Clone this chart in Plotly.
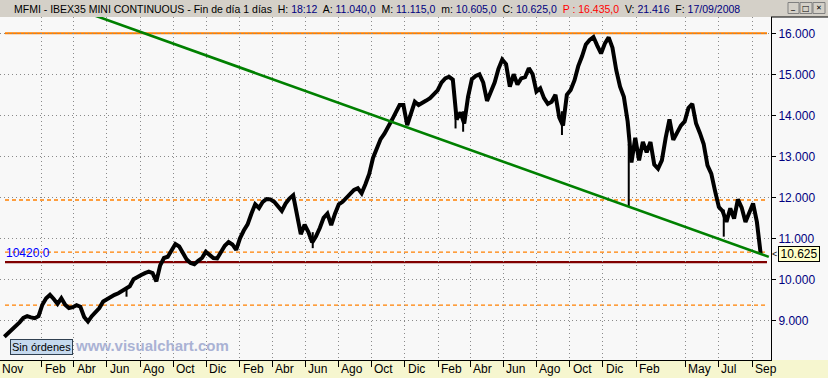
import plotly.graph_objects as go
import pandas as pd

# ---------------- data ----------------
start_week = "2004-11-24"
close = [
    8600, 8680, 8780, 8850, 8950, 9060, 9100, 9070, 9050, 9100,
    9380, 9540, 9620, 9520, 9400, 9540, 9380, 9300, 9320, 9370,
    9330, 9080, 8970, 9100, 9200, 9300, 9460, 9520, 9580, 9620,
    9660, 9710, 9780, 9830, 10000, 10060, 10105, 10150, 10185, 10150,
    9950, 10340, 10520, 10550, 10720, 10860, 10800, 10650, 10480, 10400,
    10370, 10450, 10520, 10670, 10590, 10520, 10510, 10680, 10820, 10910,
    10850, 10720, 11000, 11190, 11340, 11600, 11830, 11740, 11890, 11960,
    11950, 11890, 11780, 11670, 11850, 11970, 12050, 11600, 11100, 11330,
    11150, 10900, 11050, 11250, 11500, 11600, 11320, 11600, 11830, 11890,
    11980, 12080, 12180, 12220, 12100, 12320, 12570, 12960, 13180, 13420,
    13550, 13700, 13890, 14070, 14250, 14250, 13760, 14050, 14330, 14250,
    14320, 14360, 14420, 14520, 14610, 14800, 14900, 14940, 14870, 13900,
    14070, 13800, 14450, 14880, 14960, 15000, 14800, 14350, 14600, 14800,
    15130, 15360, 15250, 14700, 15000, 14750, 14900, 14930, 15150, 15000,
    14580, 14660, 14420, 14280, 14330, 14500, 13950, 13750, 14500, 14620,
    14850, 15200, 15440, 15730, 15840, 15910, 15700, 15510, 15750, 15900,
    15650, 15100, 14700, 14450, 13850, 12850, 13450, 12900, 13350, 13100,
    13350, 12800, 12700, 12900, 13450, 13900, 13400, 13580, 13750, 13850,
    14180, 14280, 13800, 13570, 13300, 12780, 12580, 12150, 11760, 11660,
    11400, 11730, 11480, 11950, 11750, 11400, 11600, 11850, 11400, 10625,
]
spike_dates = ["2005-07-07", "2006-06-15", "2007-03-05", "2007-03-19", "2007-09-17", "2008-01-18", "2008-07-11"]
spike_low = [9576, 10760, 13680, 13600, 13520, 11780, 11040]
spike_high = [9800, 11150, 14200, 14100, 14100, 13300, 11700]

trend_dates = ["2005-04-14", "2008-10-02"]
trend_values = [16555, 10548]

support_level = 10420
support_label = "10420.0"
resistance_level = 16000
fib_levels = [11935, 10665, 9370]

y_ticks = [9000, 10000, 11000, 12000, 13000, 14000, 15000, 16000]
y_tick_text = ["9.000", "10.000", "11.000", "12.000", "13.000", "14.000", "15.000", "16.000"]

x_tick_dates = ["2005-02-01", "2005-04-01", "2005-06-01", "2005-08-01", "2005-10-01", "2005-12-01",
                "2006-02-01", "2006-04-01", "2006-06-01", "2006-08-01", "2006-10-01", "2006-12-01",
                "2007-02-01", "2007-04-01", "2007-06-01", "2007-08-01", "2007-10-01", "2007-12-01",
                "2008-02-01", "2008-05-01", "2008-07-01", "2008-09-01"]
x_tick_text = ["Feb", "Abr", "Jun", "Ago", "Oct", "Dic",
               "Feb", "Abr", "Jun", "Ago", "Oct", "Dic",
               "Feb", "Abr", "Jun", "Ago", "Oct", "Dic",
               "Feb", "May", "Jul", "Sep"]
first_label = "Nov"

header_parts = [
    ("MFMI - IBEX35 MINI CONTINUOUS - Fin de día 1 días", None),
    ("H:", "18:12"), ("A:", "11.040,0"), ("M:", "11.115,0"), ("m:", "10.605,0"),
    ("C:", "10.625,0"), ("P :", "16.435,0"), ("V:", "21.416"), ("F:", "17/09/2008"),
]

# ---------------- figure ----------------
FONT = "Liberation Sans"
W, H = 828, 378
ML, MR, MT, MB = 0, 57, 17, 18
PW = W - ML - MR
PH = H - MT - MB


def px(x):
    return (x - ML) / PW


def py(y):
    return (H - MB - y) / PH


dates = pd.date_range(start_week, periods=len(close), freq="7D")

fig = go.Figure()
fig.add_trace(go.Scatter(x=dates, y=close, mode="lines",
                         line=dict(color="black", width=4), hoverinfo="skip"))

wx, wy = [], []
for d, lo, hi in zip(spike_dates, spike_low, spike_high):
    wx += [d, d, None]
    wy += [lo, hi, None]
fig.add_trace(go.Scatter(x=wx, y=wy, mode="lines", line=dict(color="black", width=2), hoverinfo="skip"))

fig.add_trace(go.Scatter(x=trend_dates, y=trend_values, mode="lines",
                         line=dict(color="#008000", width=2.6), hoverinfo="skip"))

shapes = []
# header and bottom band
shapes.append(dict(type="rect", xref="paper", yref="paper", x0=px(0), x1=px(W), y0=1, y1=py(0),
                   fillcolor="#d4d0c8", line=dict(width=0), layer="below"))
shapes.append(dict(type="rect", xref="paper", yref="paper", x0=px(0), x1=px(W), y0=py(H), y1=0,
                   fillcolor="#f6f6cf", line=dict(width=0), layer="below"))
shapes.append(dict(type="line", xref="paper", yref="paper", x0=1, x1=px(W), y0=1, y1=1,
                   line=dict(color="black", width=1)))
# level lines
shapes.append(dict(type="line", xref="paper", yref="y", x0=px(5), x1=px(767), y0=resistance_level,
                   y1=resistance_level, line=dict(color="#ff8000", width=2), layer="between"))
for lv in fib_levels:
    shapes.append(dict(type="line", xref="paper", yref="y", x0=px(5), x1=px(767), y0=lv, y1=lv,
                       line=dict(color="#ff8000", width=1.3, dash="4px,3px"), layer="between"))
shapes.append(dict(type="line", xref="paper", yref="y", x0=px(5), x1=px(767), y0=support_level,
                   y1=support_level, line=dict(color="#800000", width=2.2), layer="between"))
# window buttons
for x0, x1 in [(788, 799), (800, 812), (813, 825)]:
    shapes.append(dict(type="rect", xref="paper", yref="paper", x0=px(x0), x1=px(x1), y0=py(13.5), y1=py(2.5),
                       fillcolor="#d4d0c8", line=dict(color="#808080", width=1)))

annotations = []
txt = ""
for label, val in header_parts:
    if val is None:
        txt += label
    elif label.startswith("P"):
        txt += "  <span style='color:#ff0000'>" + label + " " + val + "</span>"
    else:
        txt += "  " + label + " <span style='color:#000080'>" + val + "</span>"
annotations.append(dict(text=txt, xref="paper", yref="paper", x=px(12), y=py(8.5), xanchor="left",
                        yanchor="middle", showarrow=False, font=dict(family=FONT, size=10.5, color="black")))
for (xc, yc, sym, fs) in [(793.5, 6, "_", 8), (806, 8, "□", 8), (819, 8, "✕", 7)]:
    annotations.append(dict(text=sym, xref="paper", yref="paper", x=px(xc), y=py(yc), showarrow=False,
                            xanchor="center", yanchor="middle", font=dict(family="DejaVu Sans", size=fs, color="black")))

annotations.append(dict(text=first_label, xref="paper", yref="paper", x=0, y=0, xanchor="left",
                        yanchor="top", yshift=0, showarrow=False, font=dict(family=FONT, size=12, color="black")))
for d, t in zip(x_tick_dates, x_tick_text):
    annotations.append(dict(text=t, xref="x", yref="paper", x=d, y=0, xanchor="left", yanchor="top",
                            xshift=1, yshift=0, showarrow=False, font=dict(family=FONT, size=12, color="black")))

annotations.append(dict(text=support_label, xref="paper", yref="y", x=px(4), y=support_level, xanchor="left",
                        yanchor="bottom", yshift=0, showarrow=False, font=dict(family=FONT, size=12, color="#0000ff")))
annotations.append(dict(text="Sin órdenes", xref="paper", yref="paper", x=px(10), y=py(346.5), xanchor="left",
                        yanchor="middle", showarrow=False, bgcolor="#c5d9ee", bordercolor="#304050", borderwidth=1,
                        borderpad=1, font=dict(family=FONT, size=11, color="black")))
annotations.append(dict(text="<b>www.visualchart.com</b>", xref="paper", yref="paper", x=px(73), y=py(345),
                        xanchor="left", yanchor="middle", showarrow=False,
                        font=dict(family=FONT, size=15, color="#aab2d4")))
annotations.append(dict(text="{:,.3f}".format(close[-1] / 1000).replace(",", "."), xref="paper", yref="y",
                        x=px(778), y=close[-1], xanchor="left", yanchor="middle", showarrow=False,
                        width=40, height=14, align="center",
                        bgcolor="#ffffc8", bordercolor="black", borderwidth=1, borderpad=0,
                        font=dict(family=FONT, size=12, color="black")))
annotations.append(dict(text="<", xref="paper", yref="y", x=px(774.5), y=close[-1], xanchor="center",
                        yanchor="middle", showarrow=False, font=dict(family=FONT, size=9, color="black")))

fig.update_layout(
    width=W, height=H,
    margin=dict(l=ML, r=MR, t=MT, b=MB, pad=0),
    paper_bgcolor="#f8f8f8", plot_bgcolor="#f8f8f8",
    showlegend=False,
    shapes=shapes, annotations=annotations,
    xaxis=dict(type="date", range=["2004-11-16", "2008-10-06"], tickvals=x_tick_dates,
               showticklabels=False, ticks="outside", ticklen=6, tickcolor="black", tickwidth=1,
               showgrid=True, gridcolor="#8a8a8a", griddash="1px,3px", gridwidth=1,
               showline=True, linecolor="black", linewidth=1, zeroline=False, fixedrange=True),
    yaxis=dict(range=[8032, 16398], side="right", tickvals=y_ticks, ticktext=y_tick_text,
               ticks="outside", ticklen=4, tickcolor="black", tickwidth=1,
               tickfont=dict(family=FONT, size=12, color="#000080"),
               showgrid=True, gridcolor="#8a8a8a", griddash="1px,3px", gridwidth=1,
               showline=True, linecolor="black", linewidth=1, zeroline=False, fixedrange=True),
)

fig.write_html("out.html", config={"displayModeBar": False},
               post_script="document.body.style.margin='0';document.body.style.overflow='hidden';")
